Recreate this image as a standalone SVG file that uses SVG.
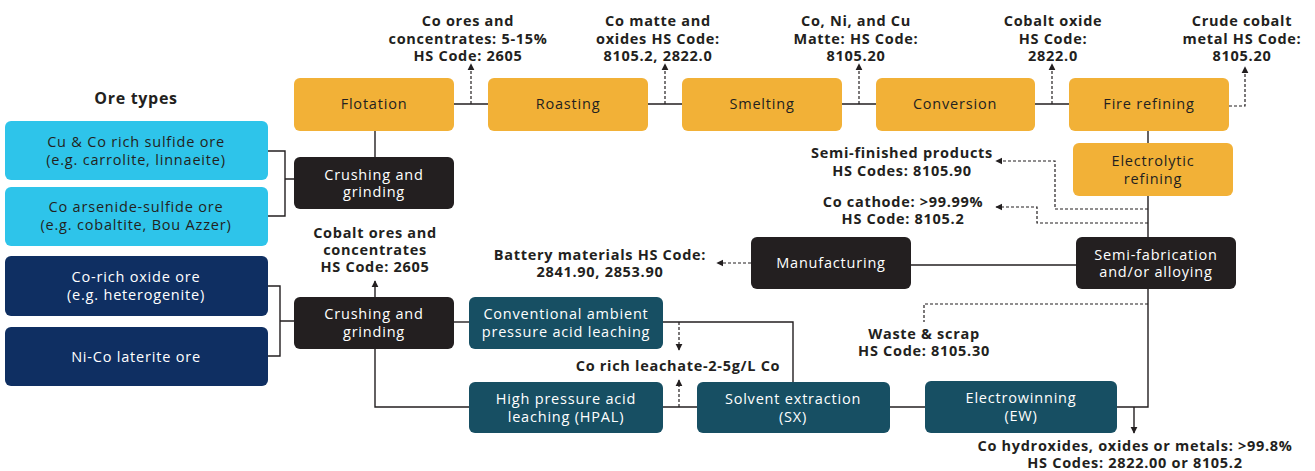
<svg xmlns="http://www.w3.org/2000/svg" width="1315" height="471" viewBox="0 0 1315 471">
<defs>
<marker id="ah" viewBox="0 0 10 10" refX="9" refY="5" markerWidth="7" markerHeight="8" markerUnits="userSpaceOnUse" orient="auto">
<path d="M0,0 L10,5 L0,10 z" fill="#231F20"/>
</marker>
<style>
.box{stroke:none}
.or{fill:#F2B137}
.cy{fill:#2EC4EA}
.nv{fill:#0F2F62}
.tl{fill:#174F63}
.bk{fill:#231F20}
.t{font-family:"Open Sans","Noto Sans",sans-serif;font-size:14.5px;letter-spacing:0.8px;text-anchor:middle}
.dk{fill:#231F20}
.wh{fill:#FFFFFF}
.lb{font-family:"Open Sans","Noto Sans",sans-serif;font-size:14.5px;letter-spacing:0.7px;font-weight:bold;text-anchor:middle;fill:#231F20}
.ln{fill:none;stroke:#231F20;stroke-width:1.4}
.ds{fill:none;stroke:#231F20;stroke-width:1.2;stroke-dasharray:3,2}
</style>
</defs>
<rect width="1315" height="471" fill="#FFFFFF"/>

<g id="connectors">
<path class="ln" d="M454,104 H488 M648,104 H682 M842,104 H876 M1035,104 H1069"/>
<path class="ln" d="M375,131 V157"/>
<path class="ln" d="M268,151 H285 V216 H268 M285,179 H294"/>
<path class="ln" d="M268,286 H280 V356 H268 M280,321 H294"/>
<path class="ln" d="M375,297 V281" marker-end="url(#ah)"/>
<path class="ln" d="M375,349 V407 H470"/>
<path class="ln" d="M454,322 H470"/>
<path class="ln" d="M663,322 H793 V382"/>
<path class="ln" d="M663,407 H697"/>
<path class="ln" d="M890,407 H925"/>
<path class="ln" d="M1117,407 H1148 V131"/>
<path class="ln" d="M911,265 H1076"/>
<path class="ln" d="M1134,407 V433" marker-end="url(#ah)"/>
<path class="ds" d="M471,104 V64" marker-end="url(#ah)"/>
<path class="ds" d="M665,104 V64" marker-end="url(#ah)"/>
<path class="ds" d="M859,104 V64" marker-end="url(#ah)"/>
<path class="ds" d="M1052,104 V64" marker-end="url(#ah)"/>
<path class="ds" d="M1229,106 H1245 V67" marker-end="url(#ah)"/>
<path class="ds" d="M1148,209 H1055 V161 H996" marker-end="url(#ah)"/>
<path class="ds" d="M1148,223 H1037 V207 H996" marker-end="url(#ah)"/>
<path class="ds" d="M751,263 H717" marker-end="url(#ah)"/>
<path class="ds" d="M1148,304 H924 V322"/>
<path class="ds" d="M679,322 V350" marker-end="url(#ah)"/>
<path class="ds" d="M679,407 V380" marker-end="url(#ah)"/>
</g>

<g id="flotation"><rect class="box or" x="294" y="78" width="160" height="53" rx="6"/><text class="t dk" x="374" y="109">Flotation</text></g>
<g id="roasting"><rect class="box or" x="488" y="78" width="160" height="53" rx="6"/><text class="t dk" x="568" y="109">Roasting</text></g>
<g id="smelting"><rect class="box or" x="682" y="78" width="160" height="53" rx="6"/><text class="t dk" x="762" y="109">Smelting</text></g>
<g id="conversion"><rect class="box or" x="876" y="78" width="159" height="53" rx="6"/><text class="t dk" x="955" y="109">Conversion</text></g>
<g id="fire-refining"><rect class="box or" x="1069" y="78" width="160" height="53" rx="6"/><text class="t dk" x="1149" y="109">Fire refining</text></g>
<g id="electrolytic-refining"><rect class="box or" x="1073" y="143" width="160" height="53" rx="6"/><text class="t dk" x="1153" y="166">Electrolytic</text><text class="t dk" x="1153" y="184">refining</text></g>

<g id="ore-types-title"><text class="lb" x="136" y="104" style="font-size:16px">Ore types</text></g>
<g id="ore-sulfide"><rect class="box cy" x="5" y="121" width="263" height="59" rx="6"/><text class="t dk" x="136" y="147">Cu &amp; Co rich sulfide ore</text><text class="t dk" x="136" y="165">(e.g. carrolite, linnaeite)</text></g>
<g id="ore-arsenide"><rect class="box cy" x="5" y="187" width="263" height="59" rx="6"/><text class="t dk" x="136" y="212">Co arsenide-sulfide ore</text><text class="t dk" x="136" y="230">(e.g. cobaltite, Bou Azzer)</text></g>
<g id="ore-oxide"><rect class="box nv" x="5" y="256" width="263" height="60" rx="6"/><text class="t wh" x="136" y="282">Co-rich oxide ore</text><text class="t wh" x="136" y="300">(e.g. heterogenite)</text></g>
<g id="ore-laterite"><rect class="box nv" x="5" y="327" width="263" height="59" rx="6"/><text class="t wh" x="136" y="362">Ni-Co laterite ore</text></g>

<g id="crushing-1"><rect class="box bk" x="294" y="157" width="160" height="52" rx="6"/><text class="t wh" x="374" y="180">Crushing and</text><text class="t wh" x="374" y="197">grinding</text></g>
<g id="crushing-2"><rect class="box bk" x="294" y="297" width="160" height="52" rx="6"/><text class="t wh" x="374" y="319">Crushing and</text><text class="t wh" x="374" y="337">grinding</text></g>

<g id="conventional-leaching"><rect class="box tl" x="469" y="297" width="194" height="52" rx="6"/><text class="t wh" x="566" y="319">Conventional ambient</text><text class="t wh" x="566" y="337">pressure acid leaching</text></g>
<g id="hpal"><rect class="box tl" x="469" y="382" width="194" height="51" rx="6"/><text class="t wh" x="566" y="404">High pressure acid</text><text class="t wh" x="566" y="422">leaching (HPAL)</text></g>
<g id="sx"><rect class="box tl" x="697" y="382" width="193" height="51" rx="6"/><text class="t wh" x="793" y="404">Solvent extraction</text><text class="t wh" x="793" y="422">(SX)</text></g>
<g id="ew"><rect class="box tl" x="925" y="381" width="192" height="52" rx="6"/><text class="t wh" x="1021" y="403">Electrowinning</text><text class="t wh" x="1021" y="421">(EW)</text></g>

<g id="manufacturing"><rect class="box bk" x="751" y="237" width="160" height="52" rx="6"/><text class="t wh" x="831" y="268">Manufacturing</text></g>
<g id="semi-fabrication"><rect class="box bk" x="1076" y="237" width="160" height="52" rx="6"/><text class="t wh" x="1156" y="260">Semi-fabrication</text><text class="t wh" x="1156" y="277">and/or alloying</text></g>

<g id="labels">
<text class="lb" x="468" y="26">Co ores and</text><text class="lb" x="468" y="44">concentrates: 5-15%</text><text class="lb" x="468" y="61">HS Code: 2605</text>
<text class="lb" x="658" y="26">Co matte and</text><text class="lb" x="658" y="44">oxides HS Code:</text><text class="lb" x="658" y="61">8105.2, 2822.0</text>
<text class="lb" x="856" y="26">Co, Ni, and Cu</text><text class="lb" x="856" y="44">Matte: HS Code:</text><text class="lb" x="856" y="61">8105.20</text>
<text class="lb" x="1053" y="26">Cobalt oxide</text><text class="lb" x="1053" y="44">HS Code:</text><text class="lb" x="1053" y="61">2822.0</text>
<text class="lb" x="1242" y="26">Crude cobalt</text><text class="lb" x="1242" y="44">metal HS Code:</text><text class="lb" x="1242" y="61">8105.20</text>
<text class="lb" x="375" y="238">Cobalt ores and</text><text class="lb" x="375" y="255">concentrates</text><text class="lb" x="375" y="272">HS Code: 2605</text>
<text class="lb" x="902" y="158">Semi-finished products</text><text class="lb" x="902" y="176">HS Codes: 8105.90</text>
<text class="lb" x="903" y="207">Co cathode: &gt;99.99%</text><text class="lb" x="903" y="224">HS Code: 8105.2</text>
<text class="lb" x="600" y="260">Battery materials HS Code:</text><text class="lb" x="600" y="277">2841.90, 2853.90</text>
<text class="lb" x="924" y="339">Waste &amp; scrap</text><text class="lb" x="924" y="356">HS Code: 8105.30</text>
<text class="lb" x="678" y="371">Co rich leachate-2-5g/L Co</text>
<text class="lb" x="1135" y="451">Co hydroxides, oxides or metals: &gt;99.8%</text><text class="lb" x="1135" y="467.5">HS Codes: 2822.00 or 8105.2</text>
</g>
</svg>
